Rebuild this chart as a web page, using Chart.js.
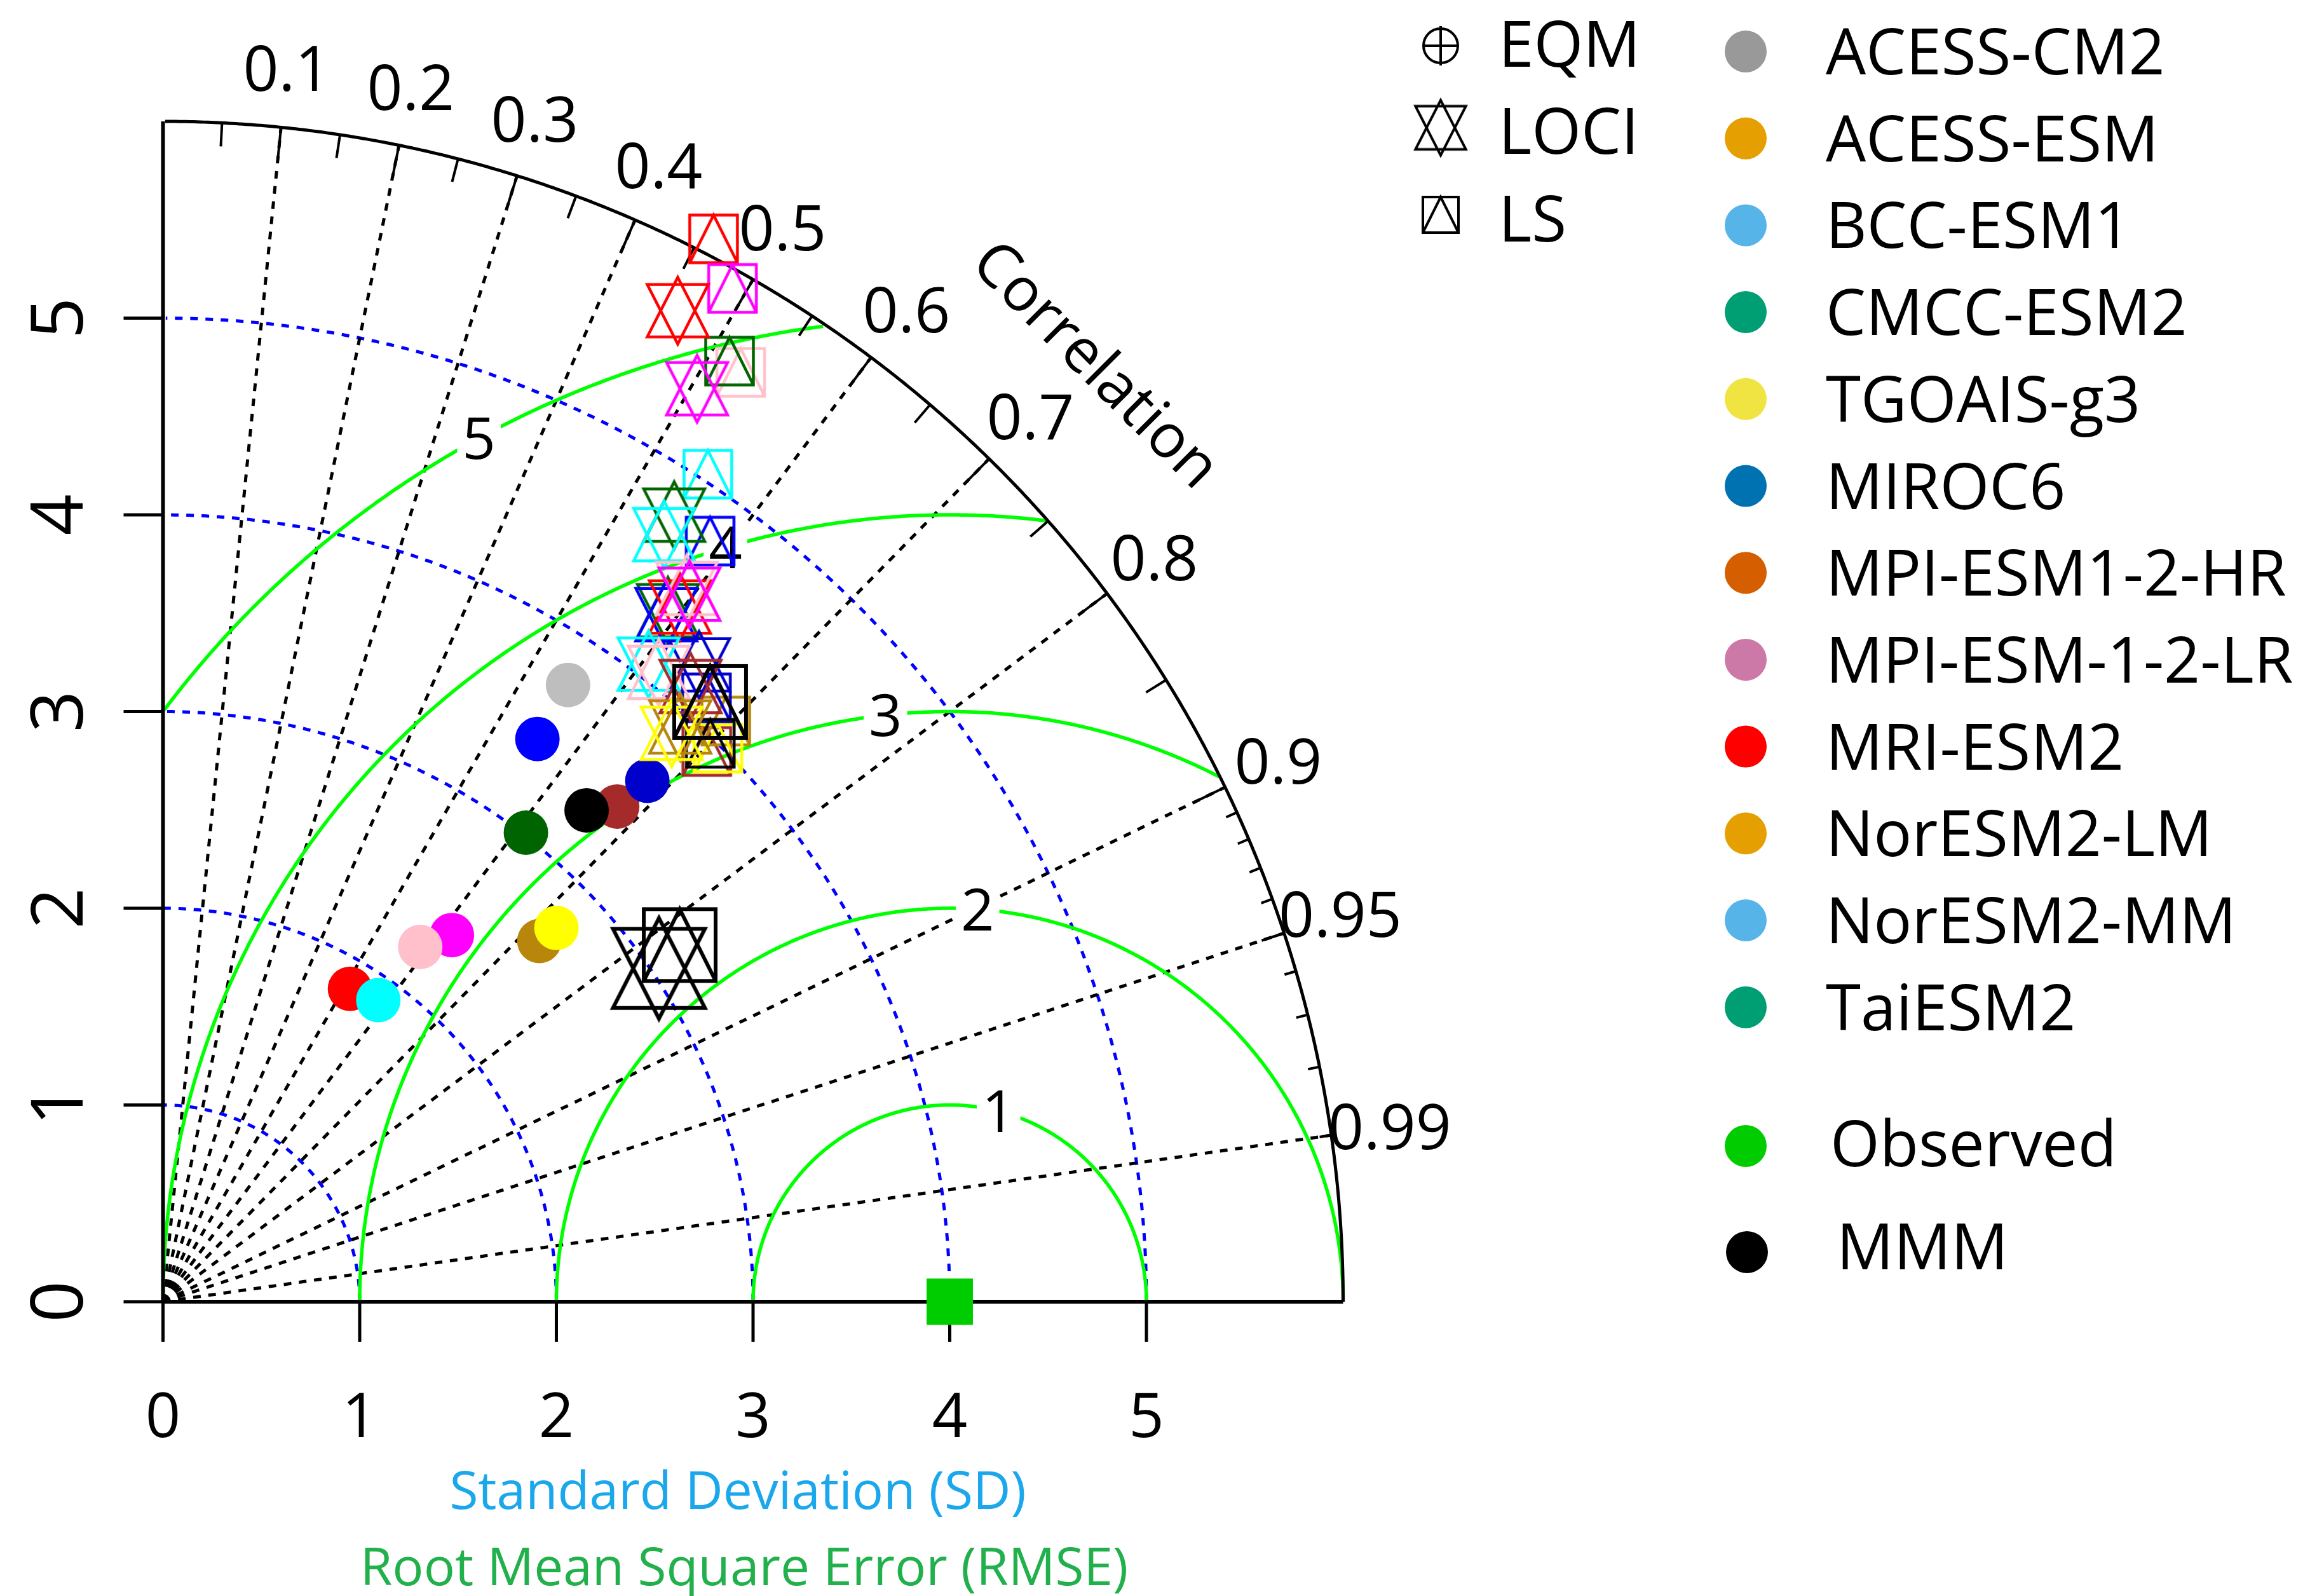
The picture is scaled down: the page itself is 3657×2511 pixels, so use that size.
<!DOCTYPE html>
<html>
<head>
<meta charset="utf-8">
<script src="https://cdn.jsdelivr.net/npm/chart.js@4.4.1/dist/chart.umd.min.js"></script>
<style>
  html, body { margin: 0; padding: 0; background: #fff; }
</style>
</head>
<body>
<canvas id="taylor" width="3657" height="2511"></canvas>
<script>
// values as (standard deviation, correlation)

// filled circles
const rawColors = ['#FF00FF', '#FFC0CB', '#B8860B', '#FFFF00', '#FF0000', '#00FFFF', '#BEBEBE', '#0000FF', '#006400', '#A52A2A', '#000000', '#0000CD'];
const rawSD  = [2.373, 2.228, 2.650, 2.759, 1.853, 1.884, 3.751, 3.436, 3.015, 3.416, 3.298, 3.616];
const rawCor = [0.619, 0.587, 0.722, 0.725, 0.513, 0.581, 0.549, 0.554, 0.612, 0.676, 0.653, 0.681];

// LS (square + triangle)
const lsColors = ['#FF0000', '#FF00FF', '#FFC0CB', '#006400', '#00FFFF', '#0000FF', '#A52A2A', '#B8860B', '#FFFF00', '#0000CD', '#000000'];
const lsSD  = [6.085, 5.909, 5.563, 5.582, 5.037, 4.763, 3.933, 4.111, 3.985, 4.130, 3.975];
const lsCor = [0.460, 0.490, 0.528, 0.516, 0.550, 0.584, 0.703, 0.696, 0.708, 0.669, 0.700];

// LOCI (triangles up and down)
const lociColors = ['#FF0000', '#FF00FF', '#006400', '#00FFFF', '#006400', '#0000FF', '#FF0000', '#FFC0CB', '#FF00FF', '#0000CD', '#00FFFF', '#FFC0CB', '#A52A2A', '#B8860B', '#FFFF00'];
const lociSD  = [5.677, 5.377, 4.769, 4.658, 4.351, 4.330, 4.402, 4.499, 4.483, 4.232, 4.074, 4.073, 4.120, 3.931, 3.878];
const lociCor = [0.461, 0.505, 0.545, 0.547, 0.590, 0.591, 0.597, 0.592, 0.597, 0.644, 0.606, 0.619, 0.651, 0.669, 0.667];

// multi model mean, drawn larger
const mmmLsSD = [4.127, 3.192];
const mmmLsCor = [0.674, 0.823];
const mmmLociSD = [3.038];
const mmmLociCor = [0.830];

// observed reference
const obsSD = [4.0];
const obsCor = [1.0];

// diagram grid and ticks
const maxSD = 6;
const sdTicks = [0, 1, 2, 3, 4, 5];
const sdArcs = [1, 2, 3, 4, 5];
const rmseArcs = [1, 2, 3, 4, 5];
const corLines = [0.1, 0.2, 0.3, 0.4, 0.5, 0.6, 0.7, 0.8, 0.9, 0.95, 0.99];
const corMedTicks = [0.05, 0.15, 0.25, 0.35, 0.45, 0.55, 0.65, 0.75, 0.85, 0.95];
const corSmlTicks = [0.91, 0.92, 0.93, 0.94, 0.95, 0.96, 0.97, 0.98, 0.99];

// legend
const methodNames = ['EQM', 'LOCI', 'LS'];
const modelNames = ['ACESS-CM2', 'ACESS-ESM', 'BCC-ESM1', 'CMCC-ESM2', 'TGOAIS-g3', 'MIROC6', 'MPI-ESM1-2-HR', 'MPI-ESM-1-2-LR', 'MRI-ESM2', 'NorESM2-LM', 'NorESM2-MM', 'TaiESM2'];
const modelColors = ['#999999', '#E69F00', '#56B4E9', '#009E73', '#F0E442', '#0072B2', '#D55E00', '#CC79A7', '#FF0000', '#E69F00', '#56B4E9', '#009E73'];

const FONT = '"Open Sans", "Noto Sans", sans-serif';

function toXY(sd, cor) {
    return sd.map((s, i) => ({ x: s * cor[i], y: s * Math.sqrt(1 - cor[i] * cor[i]) }));
}

function makeMarker(kind, color, s, lw) {
    let w = s / 2, h = s / 2;
    if (kind === 'loci') { w = 0.64 * s; h = 0.70 * s; }
    const pad = lw + 2;
    const c = document.createElement('canvas');
    c.width = Math.ceil(2 * (w + pad));
    c.height = Math.ceil(2 * (h + pad));
    const g = c.getContext('2d');
    g.translate(c.width / 2, c.height / 2);
    g.strokeStyle = color;
    g.lineWidth = lw;
    g.lineJoin = 'miter';
    g.beginPath();
    if (kind === 'ls') {
        g.rect(-w, -h, 2 * w, 2 * h);
        g.moveTo(-w, h); g.lineTo(0, -h); g.lineTo(w, h);
    } else if (kind === 'loci') {
        const b = 0.55 * s;
        g.moveTo(0, -h); g.lineTo(w, b); g.lineTo(-w, b); g.closePath();
        g.moveTo(0, h); g.lineTo(w, -b); g.lineTo(-w, -b); g.closePath();
    } else {
        g.arc(0, 0, w, 0, Math.PI * 2);
        g.moveTo(-w, 0); g.lineTo(w, 0);
        g.moveTo(0, -h - 4); g.lineTo(0, h + 4);
    }
    g.stroke();
    return c;
}

function drawText(ctx, s, x, y, size, color, align, rot) {
    ctx.save();
    ctx.translate(x, y);
    if (rot) ctx.rotate(rot);
    ctx.font = size + 'px ' + FONT;
    ctx.fillStyle = color;
    ctx.textAlign = align || 'left';
    ctx.textBaseline = 'alphabetic';
    ctx.fillText(s, 0, 0);
    ctx.restore();
}

function polyline(ctx, pts) {
    ctx.beginPath();
    pts.forEach((p, i) => i ? ctx.lineTo(p[0], p[1]) : ctx.moveTo(p[0], p[1]));
    ctx.stroke();
}

const taylorGrid = {
    id: 'taylorGrid',
    beforeDraw(chart) {
        const ctx = chart.ctx;
        ctx.save();
        ctx.fillStyle = '#fff';
        ctx.fillRect(0, 0, chart.width, chart.height);
        ctx.restore();
    },
    beforeDatasetsDraw(chart) {
        const { ctx } = chart;
        const xs = chart.scales.x, ys = chart.scales.y;
        const P = (dx, dy) => [xs.getPixelForValue(dx), ys.getPixelForValue(dy)];
        const polar = (r, a) => P(r * Math.cos(a), r * Math.sin(a));
        const refSD = obsSD[0];
        ctx.save();
        ctx.lineCap = 'butt';

        // sd arcs, blue dotted
        ctx.strokeStyle = '#0000FF';
        ctx.lineWidth = 5;
        ctx.setLineDash([12, 12]);
        sdArcs.forEach(r => {
            const pts = [];
            for (let t = 0; t <= Math.PI / 2 + 1e-9; t += 0.004) pts.push(polar(r, t));
            polyline(ctx, pts);
        });

        // correlation rays, black dotted
        ctx.strokeStyle = '#000';
        corLines.forEach(c => {
            const a = Math.acos(c);
            polyline(ctx, [P(0, 0), polar(maxSD, a)]);
        });
        ctx.setLineDash([]);

        // rmse arcs, green
        ctx.strokeStyle = '#00FF00';
        ctx.lineWidth = 5.5;
        rmseArcs.forEach(g => {
            const pts = [];
            for (let t = 0; t <= Math.PI; t += 0.004) {
                const dx = refSD + g * Math.cos(t), dy = g * Math.sin(t);
                if (dx >= 0 && dx * dx + dy * dy <= maxSD * maxSD) pts.push(P(dx, dy));
            }
            polyline(ctx, pts);
        });
        // rmse labels on white boxes
        rmseArcs.forEach((g, i) => {
            const idx = Math.floor(45 + i * (70 - 45) / (rmseArcs.length - 1));
            const t = (idx - 1) * 0.03;
            const [lx, ly] = P(refSD + g * Math.cos(t), g * Math.sin(t));
            ctx.font = '92px ' + FONT;
            const w = ctx.measureText(String(g)).width;
            ctx.fillStyle = '#fff';
            ctx.fillRect(lx - w / 2 - 8, ly - 44, w + 16, 88);
            drawText(ctx, String(g), lx, ly + 33, 92, '#000', 'center');
        });

        // outer arc and axes
        ctx.strokeStyle = '#000';
        ctx.lineWidth = 5;
        const arc = [];
        for (let t = 0; t <= Math.PI / 2 + 1e-9; t += 0.003) arc.push(polar(maxSD, t));
        polyline(ctx, arc);
        ctx.lineWidth = 6;
        polyline(ctx, [P(0, 0), P(maxSD, 0)]);
        polyline(ctx, [P(0, 0), P(0, maxSD)]);

        // ticks on the outer arc
        ctx.lineWidth = 4;
        corLines.slice(0, 9).forEach(c => polyline(ctx, [polar(maxSD, Math.acos(c)), polar(0.97 * maxSD, Math.acos(c))]));
        corMedTicks.forEach(c => polyline(ctx, [polar(maxSD, Math.acos(c)), polar(0.98 * maxSD, Math.acos(c))]));
        corSmlTicks.forEach(c => polyline(ctx, [polar(maxSD, Math.acos(c)), polar(0.99 * maxSD, Math.acos(c))]));

        // axis ticks and labels
        ctx.lineWidth = 5;
        sdTicks.forEach(v => {
            const [tx, ty] = P(v, 0);
            polyline(ctx, [[tx, ty], [tx, ty + 63]]);
            drawText(ctx, String(v), tx, 2261, 97, '#000', 'center');
            const [qx, qy] = P(0, v);
            polyline(ctx, [[qx, qy], [qx - 62, qy]]);
            drawText(ctx, String(v), 130, qy, 114, '#000', 'center', -Math.PI / 2);
        });

        // correlation labels
        corLines.forEach(c => {
            const [lx, ly] = polar(1.05 * maxSD, Math.acos(c));
            drawText(ctx, String(c), lx, ly + 35, 98, '#000', 'center');
        });
        const [cx, cy] = P(4.75, 4.77);
        ctx.save();
        ctx.translate(cx, cy);
        ctx.rotate(Math.PI / 4);
        drawText(ctx, 'Correlation', 0, 34, 96, '#000', 'center');
        ctx.restore();

        // axis titles
        drawText(ctx, 'Standard Deviation (SD)', 1161, 2374, 82, '#1AA7EC', 'center');
        drawText(ctx, 'Root Mean Square Error (RMSE)', 1171, 2494, 82, '#21B04B', 'center');
        ctx.restore();
    },
    afterDraw(chart) {
        const { ctx } = chart;
        ctx.save();
        // method legend
        const methodKinds = ['eqm', 'loci', 'ls'];
        const methodSizes = [54, 62, 56];
        const methodMarkY = [72, 201, 338];
        const methodTextY = [105, 242, 380];
        methodNames.forEach((name, i) => {
            const m = makeMarker(methodKinds[i], '#000', methodSizes[i], 4);
            ctx.drawImage(m, 2267 - m.width / 2, methodMarkY[i] - m.height / 2);
            drawText(ctx, name, 2358, methodTextY[i], 100, '#000', 'left');
        });
        // model legend
        modelNames.forEach((name, i) => {
            const base = 117 + i * 136.7;
            ctx.fillStyle = modelColors[i];
            ctx.beginPath();
            ctx.arc(2747, base - 36, 33, 0, Math.PI * 2);
            ctx.fill();
            drawText(ctx, name, 2873, base, 100, '#000', 'left');
        });
        ctx.fillStyle = '#00CC00';
        ctx.beginPath(); ctx.arc(2747, 1803, 33, 0, Math.PI * 2); ctx.fill();
        drawText(ctx, 'Observed', 2880, 1835, 100, '#000', 'left');
        ctx.fillStyle = '#000';
        ctx.beginPath(); ctx.arc(2749, 1970, 33, 0, Math.PI * 2); ctx.fill();
        drawText(ctx, 'MMM', 2890, 1997, 100, '#000', 'left');
        ctx.restore();
    }
};

const lsStyles = lsColors.map(c => makeMarker('ls', c, 75, 4.5));
const lociStyles = lociColors.map(c => makeMarker('loci', c, 75, 4.5));
const mmmLsStyle = makeMarker('ls', '#000', 113, 6);
const mmmLociStyle = makeMarker('loci', '#000', 113, 6);

new Chart(document.getElementById('taylor'), {
    type: 'scatter',
    data: {
        datasets: [
            {
                label: 'Observed',
                data: toXY(obsSD, obsCor),
                pointStyle: 'rect',
                pointRadius: 51.6,
                pointBackgroundColor: '#00CD00',
                pointBorderWidth: 0,
                clip: false,
                order: 1
            },
            {
                label: 'MMM LOCI',
                data: toXY(mmmLociSD, mmmLociCor),
                pointStyle: mmmLociStyle,
                pointRadius: 50,
                clip: false,
                order: 2
            },
            {
                label: 'MMM LS',
                data: toXY(mmmLsSD, mmmLsCor),
                pointStyle: mmmLsStyle,
                pointRadius: 50,
                clip: false,
                order: 3
            },
            {
                label: 'LOCI',
                data: toXY(lociSD, lociCor),
                pointStyle: lociStyles,
                pointRadius: 40,
                clip: false,
                order: 4
            },
            {
                label: 'LS',
                data: toXY(lsSD, lsCor),
                pointStyle: lsStyles,
                pointRadius: 40,
                clip: false,
                order: 5
            },
            {
                label: 'Raw',
                data: toXY(rawSD, rawCor),
                pointStyle: 'circle',
                pointRadius: 35,
                pointBackgroundColor: rawColors,
                pointBorderWidth: 0,
                clip: false,
                order: 6
            }
        ]
    },
    options: {
        responsive: false,
        devicePixelRatio: 1,
        animation: false,
        events: [],
        layout: { padding: { left: 256.5, right: 1543.5, top: 191, bottom: 463 } },
        scales: {
            x: { type: 'linear', min: 0, max: maxSD, display: false },
            y: { type: 'linear', min: 0, max: maxSD, display: false }
        },
        plugins: {
            legend: { display: false },
            tooltip: { enabled: false }
        }
    },
    plugins: [taylorGrid]
});
</script>
</body>
</html>
